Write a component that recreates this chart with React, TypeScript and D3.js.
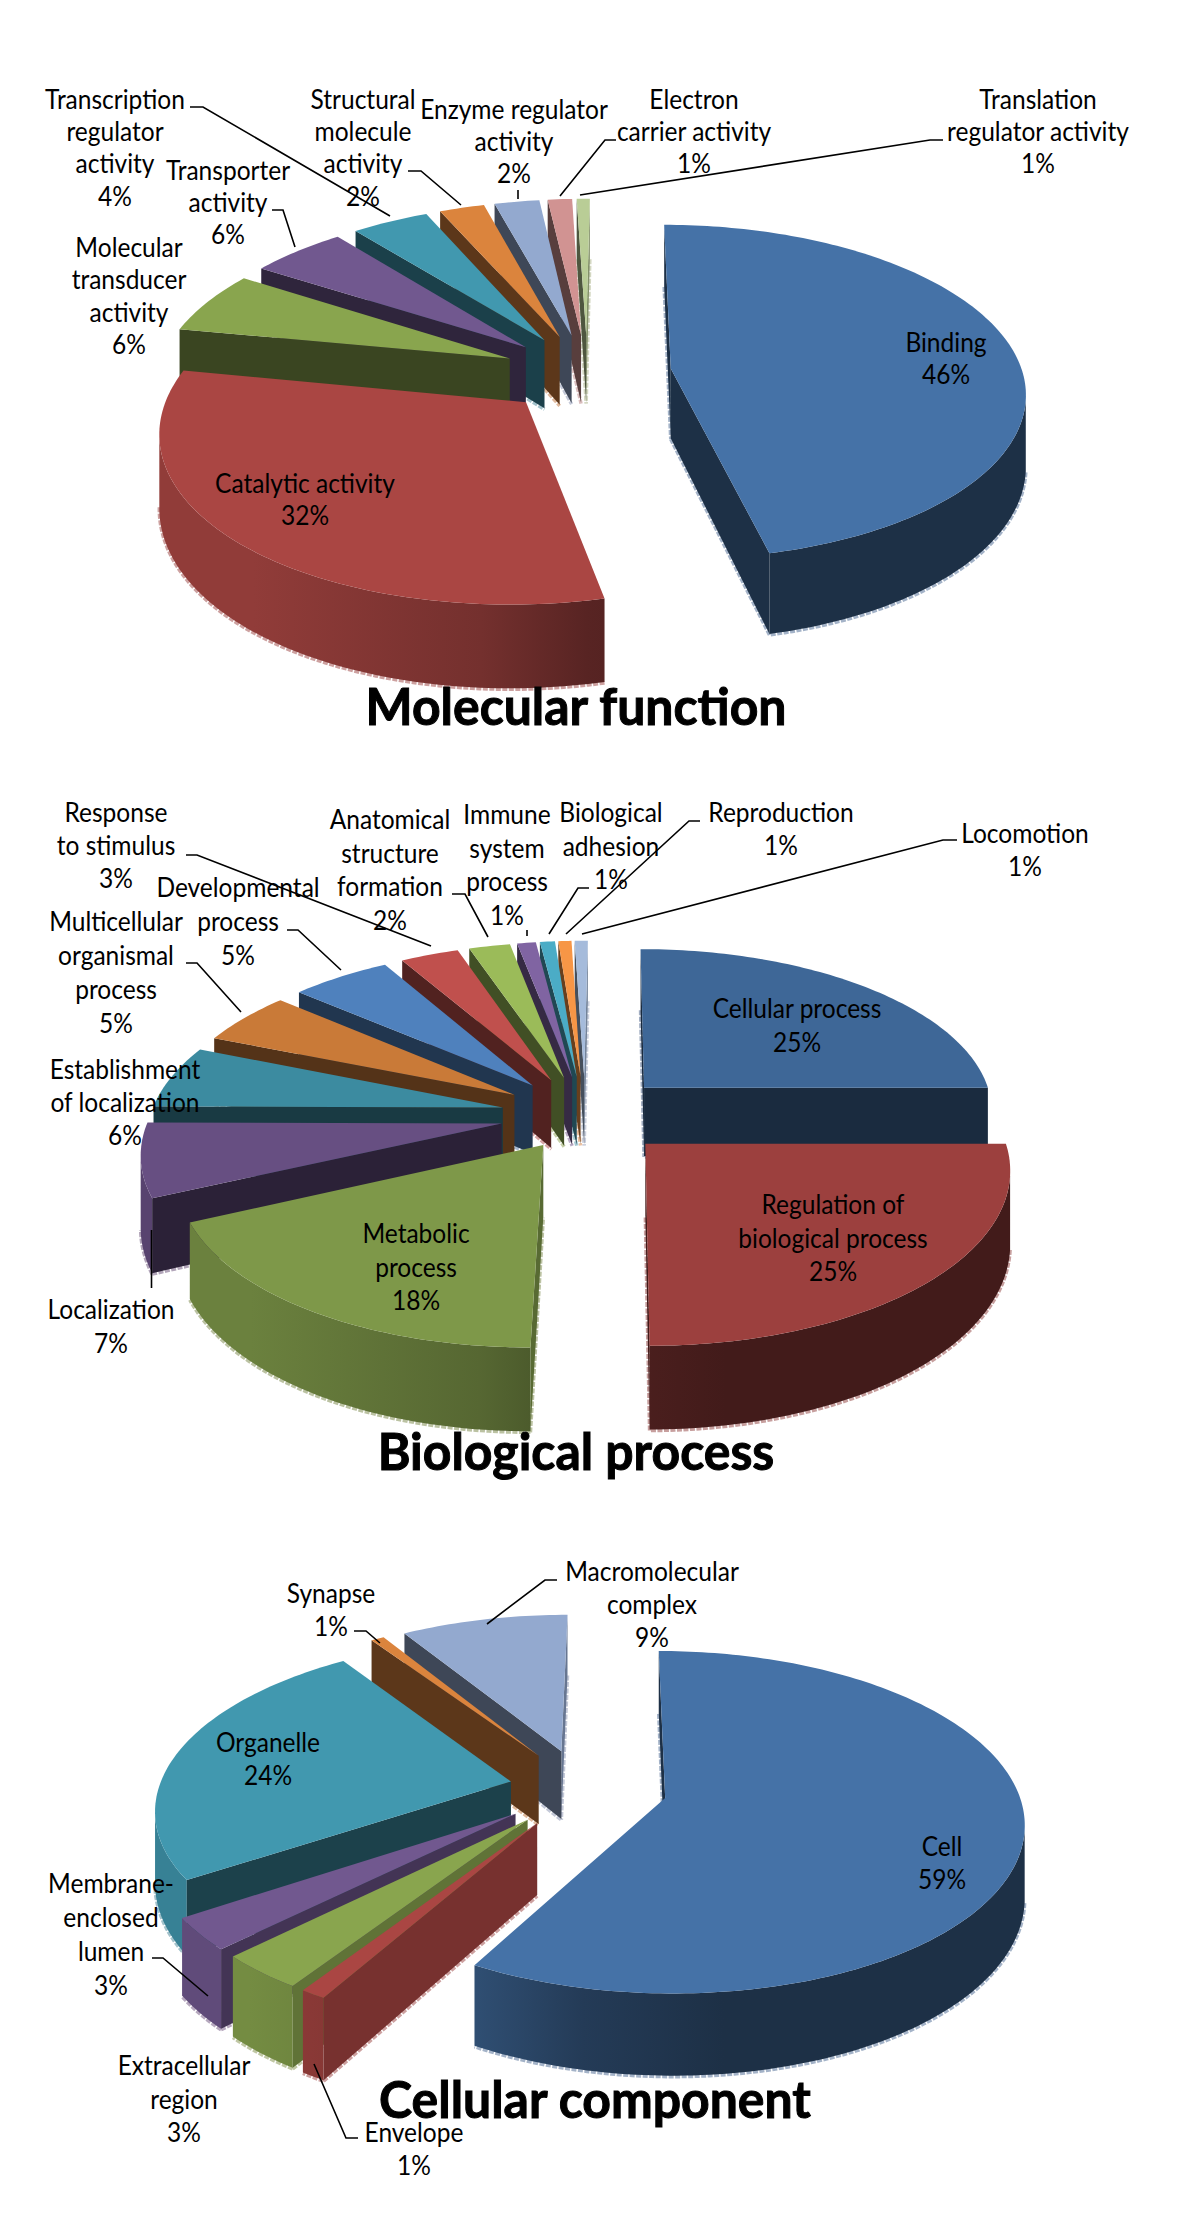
import React from "react";
import * as d3 from "d3";

// ---------- data ----------
const mfNames = ["Binding", "Catalytic activity", "Molecular transducer activity", "Transporter activity", "Transcription regulator activity", "Structural molecule activity", "Enzyme regulator activity", "Electron carrier activity", "Translation regulator activity"];
const mfValues = [46.4, 31.6, 6, 5.1, 4.1, 2.4, 2.4, 1.3, 0.7];
const mfColors = ["#4572A7", "#AA4643", "#89A54E", "#71588F", "#4198AF", "#DB843D", "#93A9CF", "#D19392", "#B9CD96"];

const bpNames = ["Cellular process", "Regulation of biological process", "Metabolic process", "Localization", "Establishment of localization", "Multicellular organismal process", "Developmental process", "Response to stimulus", "Anatomical structure formation", "Immune system process", "Biological adhesion", "Reproduction", "Locomotion"];
const bpValues = [25, 25, 18.1, 7, 6, 5.1, 5.3, 3.1, 2.2, 1, 0.8, 0.7, 0.7];
const bpColors = ["#3E6797", "#9C403E", "#7E9849", "#674F82", "#3C8BA0", "#C97A38", "#4F81BD", "#C0504D", "#9BBB59", "#8064A2", "#4BACC6", "#F79646", "#A5BBDB"];

const ccNames = ["Cell", "Envelope", "Extracellular region", "Membrane-enclosed lumen", "Organelle", "Synapse", "Macromolecular complex"];
const ccValues = [58.1, 1, 3.4, 3.1, 24.8, 0.7, 8.9];
const ccColors = ["#4572A7", "#AA4643", "#89A54E", "#71588F", "#4198AF", "#DB843D", "#93A9CF"];

// ---------- layout ----------
type Lab = { lines: string[]; x: number; y: number; dy: number };
const mfLabels: Lab[] = [
  { lines: ["Binding", "46%"], x: 946, y: 344, dy: 32 },
  { lines: ["Catalytic activity", "32%"], x: 305, y: 485, dy: 32 },
  { lines: ["Molecular", "transducer", "activity", "6%"], x: 129, y: 249, dy: 32.3 },
  { lines: ["Transporter", "activity", "6%"], x: 228, y: 172, dy: 32 },
  { lines: ["Transcription", "regulator", "activity", "4%"], x: 115, y: 101, dy: 32.2 },
  { lines: ["Structural", "molecule", "activity", "2%"], x: 363, y: 101, dy: 32.2 },
  { lines: ["Enzyme regulator", "activity", "2%"], x: 514, y: 111, dy: 32 },
  { lines: ["Electron", "carrier activity", "1%"], x: 694, y: 101, dy: 32 },
  { lines: ["Translation", "regulator activity", "1%"], x: 1038, y: 101, dy: 32 },
];
const mfLeaders = [
  [[190, 107], [203, 107], [390, 216]],
  [[272, 210], [283, 210], [295, 247]],
  [[408, 171], [421, 171], [461, 205]],
  [[518, 190], [518, 199]],
  [[616, 140], [605, 140], [560, 196]],
  [[943, 140], [930, 140], [580, 195]],
];
const bpLabels: Lab[] = [
  { lines: ["Cellular process", "25%"], x: 797, y: 1010, dy: 34 },
  { lines: ["Regulation of", "biological process", "25%"], x: 833, y: 1206, dy: 33.5 },
  { lines: ["Metabolic", "process", "18%"], x: 416, y: 1235, dy: 33.5 },
  { lines: ["Localization", "7%"], x: 111, y: 1311, dy: 34 },
  { lines: ["Establishment", "of localization", "6%"], x: 125, y: 1071, dy: 33 },
  { lines: ["Multicellular", "organismal", "process", "5%"], x: 116, y: 923, dy: 34 },
  { lines: ["Developmental", "process", "5%"], x: 238, y: 888.5, dy: 34 },
  { lines: ["Response", "to stimulus", "3%"], x: 116, y: 814, dy: 33 },
  { lines: ["Anatomical", "structure", "formation", "2%"], x: 390, y: 821, dy: 33.5 },
  { lines: ["Immune", "system", "process", "1%"], x: 507, y: 816, dy: 33.7 },
  { lines: ["Biological", "adhesion", "1%"], x: 611, y: 814, dy: 33.5 },
  { lines: ["Reproduction", "1%"], x: 781, y: 814, dy: 33 },
  { lines: ["Locomotion", "1%"], x: 1025, y: 835, dy: 33 },
];
const bpLeaders = [
  [[186, 855], [197, 855], [431, 946]],
  [[452, 894], [465, 894], [488, 937]],
  [[527, 930], [527, 936]],
  [[589, 888], [578, 888], [549, 934]],
  [[700, 821], [689, 821], [566, 934]],
  [[957, 840], [943, 840], [582, 934]],
  [[186, 963], [197, 963], [241, 1012]],
  [[287, 930], [298, 930], [341, 970]],
  [[151.5, 1288], [151.5, 1230]],
];
const ccLabels: Lab[] = [
  { lines: ["Cell", "59%"], x: 942, y: 1848, dy: 33 },
  { lines: ["Envelope", "1%"], x: 414, y: 2134, dy: 33 },
  { lines: ["Extracellular", "region", "3%"], x: 184, y: 2067, dy: 33.5 },
  { lines: ["Membrane-", "enclosed", "lumen", "3%"], x: 111, y: 1885, dy: 34 },
  { lines: ["Organelle", "24%"], x: 268, y: 1744, dy: 32.5 },
  { lines: ["Synapse", "1%"], x: 331, y: 1595, dy: 32.5 },
  { lines: ["Macromolecular", "complex", "9%"], x: 652, y: 1573, dy: 33 },
];
const ccLeaders = [
  [[354, 1631], [366, 1631], [380, 1643]],
  [[557, 1580], [545, 1580], [487, 1624]],
  [[152, 1958], [163, 1958], [208, 1996]],
  [[358, 2138], [346, 2138], [314, 2064]],
];

const K = 0.14, RX = 352, RY = 165, EXPLODE = 0.24, DEPTH = 70, CAM_BACK = 30, CAM_FRONT = 35;
const charts = [
  { id: "mf", title: "Molecular function", tx: 576, ty: 725, cx: 587, cy: 373, names: mfNames, values: mfValues, colors: mfColors, labels: mfLabels, leaders: mfLeaders, explode: {} as Record<number, number> },
  { id: "bp", title: "Biological process", tx: 576, ty: 1470, cx: 585, cy: 1115, names: bpNames, values: bpValues, colors: bpColors, labels: bpLabels, leaders: bpLeaders, explode: { 2: 0.21 } as Record<number, number> },
  { id: "cc", title: "Cellular component", tx: 595, ty: 2118, cx: 583, cy: 1788, names: ccNames, values: ccValues, colors: ccColors, labels: ccLabels, leaders: ccLeaders, explode: { 4: 0.21 } as Record<number, number> },
];

const shadeX = d3.scaleLinear().domain([-0.95, -0.3, 0, 0.4]).range([0.85, 0.68, 0.52, 0.42]).clamp(true);
const shadeFace = d3.scaleLinear().domain([0.55, 0.8]).range([0.42, 0.7]).clamp(true);
const dim = (c: string, f: number) => {
  const r = d3.rgb(c);
  return d3.rgb(r.r * f, r.g * f, r.b * f).formatHex();
};
const pale = (c: string) => d3.interpolateRgb(c, "#e4dede")(0.6);
const lineGen = d3.line();

function Pie({ c }: { c: (typeof charts)[number] }) {
  const arcs = d3.pie<number>().sort(null).value((d) => d)(c.values);
  const proj = (u: number, v: number, z: number): [number, number] => {
    const s = 1 / (1 - K * v);
    return [c.cx + RX * u * s - (s < 1 ? CAM_BACK : CAM_FRONT) * (s - 1), c.cy + (RY * v + z) * s];
  };
  const slices = arcs
    .map((a, i) => {
      const mid = (a.startAngle + a.endAngle) / 2;
      const e = c.explode[i] ?? EXPLODE;
      return { a, i, mid, ax: e * Math.sin(mid), ay: -e * Math.cos(mid) };
    })
    .sort((p, q) => -Math.cos(p.mid) - -Math.cos(q.mid));

  return (
    <g>
      {slices.map(({ a, i, ax, ay }) => {
        const col = c.colors[i];
        const n = Math.max(4, Math.ceil((a.endAngle - a.startAngle) / 0.02));
        const phis = d3.range(n + 1).map((t) => a.startAngle + ((a.endAngle - a.startAngle) * t) / n);
        const rim = (p: number): [number, number] => [ax + Math.sin(p), ay - Math.cos(p)];
        const topPts = [proj(ax, ay, 0), ...phis.map((p) => { const [u, v] = rim(p); return proj(u, v, 0); })];
        // outer wall: front-facing part only
        const vis = phis.filter((p) => {
          const [u, v] = rim(p);
          return Math.sin(p) * (0 - u) + -Math.cos(p) * (1 / K - v) > 0;
        });
        const wallBottom = vis.map((p) => { const [u, v] = rim(p); return proj(u, v, DEPTH); });
        const wallPts = vis.length > 1 ? [
          ...vis.map((p) => { const [u, v] = rim(p); return proj(u, v, 0); }),
          ...wallBottom.slice().reverse(),
        ] : null;
        // cut faces
        const faces = [
          { p: a.startAngle, nu: -Math.cos(a.startAngle), nv: -Math.sin(a.startAngle) },
          { p: a.endAngle, nu: Math.cos(a.endAngle), nv: Math.sin(a.endAngle) },
        ]
          .filter((f) => f.nu * (0 - ax) + f.nv * (1 / K - ay) > 0)
          .map((f) => {
            const [u, v] = rim(f.p);
            return {
              key: f.p,
              fill: dim(col, shadeFace(f.nu)),
              depth: (ay + v) / 2,
              pts: [proj(ax, ay, 0), proj(u, v, 0), proj(u, v, DEPTH), proj(ax, ay, DEPTH)],
            };
          })
          .sort((f, g) => f.depth - g.depth);
        const gid = `${c.id}-w${i}`;
        const stops = [-0.95, -0.3, 0, 0.4];
        const x0 = c.cx - RX * 1.2, x1 = c.cx + RX * 1.2;
        return (
          <g key={i}>
            <defs>
              <linearGradient id={gid} gradientUnits="userSpaceOnUse" x1={x0} x2={x1} y1={0} y2={0}>
                {stops.map((t) => (
                  <stop key={t} offset={(c.cx + RX * t - x0) / (x1 - x0)} stopColor={dim(col, shadeX(t))} />
                ))}
              </linearGradient>
            </defs>
            {wallBottom.length > 1 && (
              <path d={lineGen(wallBottom) as string} transform="translate(0,1)" fill="none" stroke={pale(col)} strokeWidth={3.5} strokeDasharray="5 1.5" />
            )}
            {faces.map((f) => (
              <path key={"h" + f.key} d={lineGen([f.pts[2], f.pts[3]] as any) as string} transform="translate(0,1)" fill="none" stroke={pale(col)} strokeWidth={3.5} strokeDasharray="5 1.5" />
            ))}
            {wallPts && <path d={lineGen(wallPts) + "Z"} fill={`url(#${gid})`} />}
            {faces.map((f) => (
              <path key={f.key} d={lineGen(f.pts as any) + "Z"} fill={f.fill} />
            ))}
            <path d={lineGen(topPts) + "Z"} fill={col} />
          </g>
        );
      })}
      {c.leaders.map((l, i) => (
        <path key={i} d={lineGen(l as any) as string} fill="none" stroke="#000" strokeWidth={1.6} />
      ))}
      {c.labels.map((l, i) => (
        <g key={i}>
          {l.lines.map((t, j) => (
            <text
              key={j}
              transform={`translate(${l.x},${l.y + j * l.dy + 8}) scale(1.09,1.18)`}
              textAnchor="middle"
              fontFamily="Lato"
              fontSize={22.5}
              fill="#000"
            >
              {t}
            </text>
          ))}
        </g>
      ))}
      <text
        transform={`translate(${c.tx},${c.ty}) scale(1.085,1.14)`}
        textAnchor="middle"
        fontFamily="Lato"
        fontWeight={700}
        fontSize={46}
        fill="#000"
        stroke="#000"
        strokeWidth={0.9}
      >
        {c.title}
      </text>
    </g>
  );
}

export default function App() {
  return (
    <svg width={1200} height={2228} viewBox="0 0 1200 2228" style={{ position: "absolute", left: 0, top: 0, background: "#fff" }}>
      {charts.map((c) => (
        <Pie key={c.id} c={c} />
      ))}
    </svg>
  );
}
